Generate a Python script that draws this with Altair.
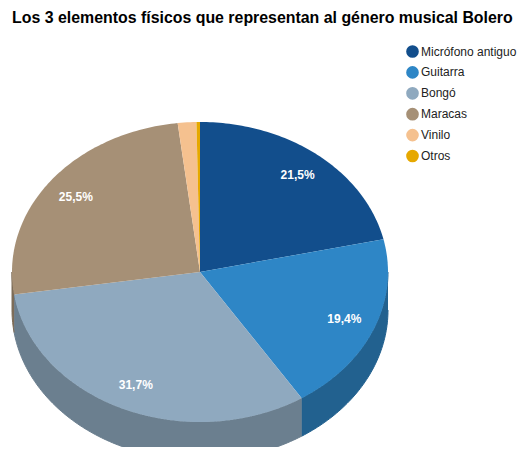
import numpy as np
import pandas as pd
import altair as alt

title_text = "Los 3 elementos físicos que representan al género musical Bolero"
categories = ["Micrófono antiguo", "Guitarra", "Bongó", "Maracas", "Vinilo", "Otros"]
values = [21.5, 19.4, 31.7, 25.5, 1.6, 0.3]
top_colors = ["#124e8c", "#2e86c6", "#8fa9bf", "#a69076", "#f5c18f", "#e6a800"]
side_colors = ["#0c3560", "#22618f", "#6b7f8f", "#7d6c58", "#b8906a", "#ad7e00"]

W, H = 510, 439
CX, CY, RX, RY, DEPTH = 192, 264, 188, 150, 38
LABEL_R = 0.83
FONT = "Arial, Liberation Sans, sans-serif"

total = float(sum(values))
ends = np.cumsum(values) / total * 360.0
starts = ends - np.array(values) / total * 360.0


def rim(a, dy=0.0):
    r = np.radians(a)
    return CX + RX * np.sin(r), CY - RY * np.cos(r) + dy


top_rows = []
side_rows = []
label_rows = []
for c, v, a0, a1, sc in zip(categories, values, starts, ends, side_colors):
    n = max(2, int(np.ceil(a1 - a0)) + 1)
    angs = np.linspace(a0, a1, n)
    pts = [(CX, CY)] + [rim(a) for a in angs]
    for k, (x, y) in enumerate(pts):
        top_rows.append({"cat": c, "x": x, "y": y, "k": k})
    lo, hi = max(a0, 90.0), min(a1, 270.0)
    if hi > lo:
        m = max(2, int(np.ceil(hi - lo)) + 1)
        sa = np.linspace(lo, hi, m)
        spts = [rim(a) for a in sa] + [rim(a, DEPTH) for a in sa[::-1]]
        for k, (x, y) in enumerate(spts):
            side_rows.append({"cat": c, "col": sc, "x": x, "y": y, "k": k})
    if v / total >= 0.05:
        mid = np.radians((a0 + a1) / 2)
        label_rows.append({
            "x": CX + LABEL_R * RX * np.sin(mid),
            "y": CY - LABEL_R * RY * np.cos(mid),
            "label": f"{v:.1f}".replace(".", ",") + "%",
        })

top_df = pd.DataFrame(top_rows)
side_df = pd.DataFrame(side_rows)
label_df = pd.DataFrame(label_rows)

xs = alt.Scale(domain=[0, W], nice=False, zero=False)
ys = alt.Scale(domain=[H, 0], nice=False, zero=False)

side = alt.Chart(side_df).mark_line(clip=True, strokeWidth=1).encode(
    x=alt.X("x:Q", scale=xs, axis=None),
    y=alt.Y("y:Q", scale=ys, axis=None),
    order="k:Q",
    detail="cat:N",
    fill=alt.Fill("col:N", scale=None, legend=None),
    stroke=alt.Stroke("col:N", scale=None, legend=None),
)

top = alt.Chart(top_df).mark_line(clip=True, strokeWidth=0).encode(
    x=alt.X("x:Q", scale=xs, axis=None),
    y=alt.Y("y:Q", scale=ys, axis=None),
    order="k:Q",
    fill=alt.Fill(
        "cat:N",
        scale=alt.Scale(domain=categories, range=top_colors),
        sort=categories,
        legend=alt.Legend(
            orient="none", legendX=398, legendY=37, title=None,
            symbolType="circle", symbolSize=160, symbolStrokeWidth=0,
            labelFontSize=12, labelFont=FONT, labelColor="#222222",
            rowPadding=7.9, padding=0, labelOffset=2, labelLimit=200,
        ),
    ),
)

labels = alt.Chart(label_df).mark_text(
    color="white", fontSize=12, fontWeight="bold", font=FONT,
    align="center", baseline="middle",
).encode(
    x=alt.X("x:Q", scale=xs, axis=None),
    y=alt.Y("y:Q", scale=ys, axis=None),
    text="label:N",
)

title = alt.Chart(pd.DataFrame({"t": [title_text]})).mark_text(
    fontSize=15.9, fontWeight="bold", font=FONT, color="#000000",
    align="left", baseline="alphabetic",
).encode(x=alt.value(4), y=alt.value(14.5), text="t:N")

chart = alt.layer(side, top, labels, title).resolve_scale(
    fill="independent", stroke="independent"
).resolve_legend(fill="independent", stroke="independent").properties(
    width=W, height=H, padding=0, autosize="none"
).configure_view(strokeWidth=0)

chart.save("out.html", embed_options={"renderer": "svg", "actions": False})
